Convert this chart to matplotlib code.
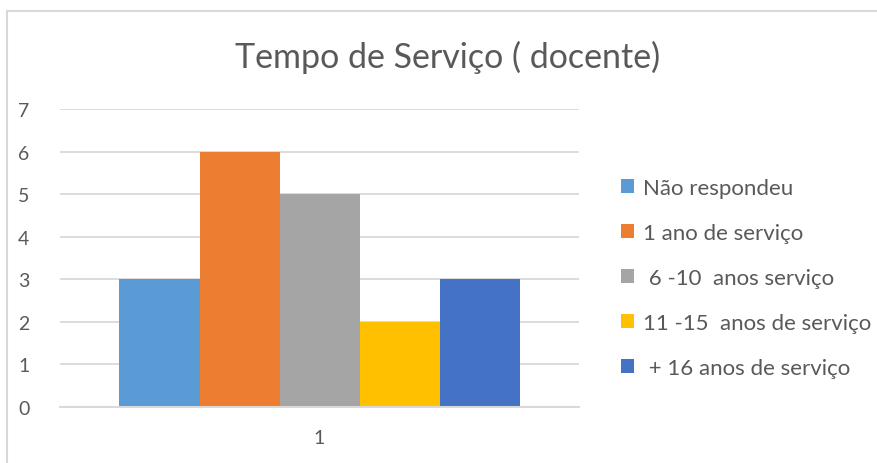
import numpy as np
import matplotlib
matplotlib.use('Agg')
import matplotlib.pyplot as plt
from matplotlib.lines import Line2D

# --- данные ---
categories = ['1']
series_labels = ['Não respondeu', '1 ano de serviço', ' 6 -10  anos serviço',
                 '11 -15  anos de serviço', ' + 16 anos de serviço']
series_values = [3, 6, 5, 2, 3]
colors = ['#5b9bd5', '#ed7d31', '#a5a5a5', '#ffc000', '#4472c4']
title = 'Tempo de Serviço ( docente)'

plt.rcParams['font.family'] = ['Lato', 'DejaVu Sans']

W, H = 878, 464
fig = plt.figure(figsize=(W / 100, H / 100), dpi=100)

# область графика (в пикселях)
x0, x1 = 60, 579
y0, y7 = 408, 110
ax = fig.add_axes([x0 / W, 1 - y0 / H, (x1 - x0) / W, (y0 - y7) / H])

n = len(series_values)
bw = 400 / 519 / n
xc = np.arange(len(categories))
for i, (v, c, lab) in enumerate(zip(series_values, colors, series_labels)):
    ax.bar(xc + (i - (n - 1) / 2) * bw, [v], width=bw, color=c, label=lab, zorder=3)

ax.set_xlim(-0.5, 0.5)
ax.set_ylim(0, 7)
ax.set_yticks(range(0, 8))
ax.set_xticks(xc)
ax.set_xticklabels(categories)
ax.grid(axis='y', color='#d9d9d9', linewidth=1.3, zorder=0)
for s in ['top', 'right', 'left']:
    ax.spines[s].set_visible(False)
ax.spines['bottom'].set_color('#d9d9d9')
ax.spines['bottom'].set_linewidth(1.5)
ax.spines['bottom'].set_zorder(4)
ax.tick_params(length=0, labelsize=14, colors='#595959')
ax.tick_params(axis='y', pad=22)
ax.tick_params(axis='x', pad=16)

fig.text(448 / W, 1 - 57 / H, title, ha='center', va='center',
         fontsize=24.5, color='#595959')

leg = fig.legend(loc='upper left', bbox_to_anchor=(601 / W, 1 - 159 / H),
                 frameon=False, fontsize=16, handlelength=0.6, handleheight=0.6,
                 handletextpad=0.4, labelspacing=1.12)
for t in leg.get_texts():
    t.set_color('#595959')

# рамка диаграммы
fig.add_artist(Line2D([7.5 / W, 7.5 / W], [0, 1 - 11.5 / H], color='#d9d9d9', lw=1.5))
fig.add_artist(Line2D([7.5 / W, 1], [1 - 11.5 / H, 1 - 11.5 / H], color='#d9d9d9', lw=1.5))

fig.savefig('out.png', dpi=100)
